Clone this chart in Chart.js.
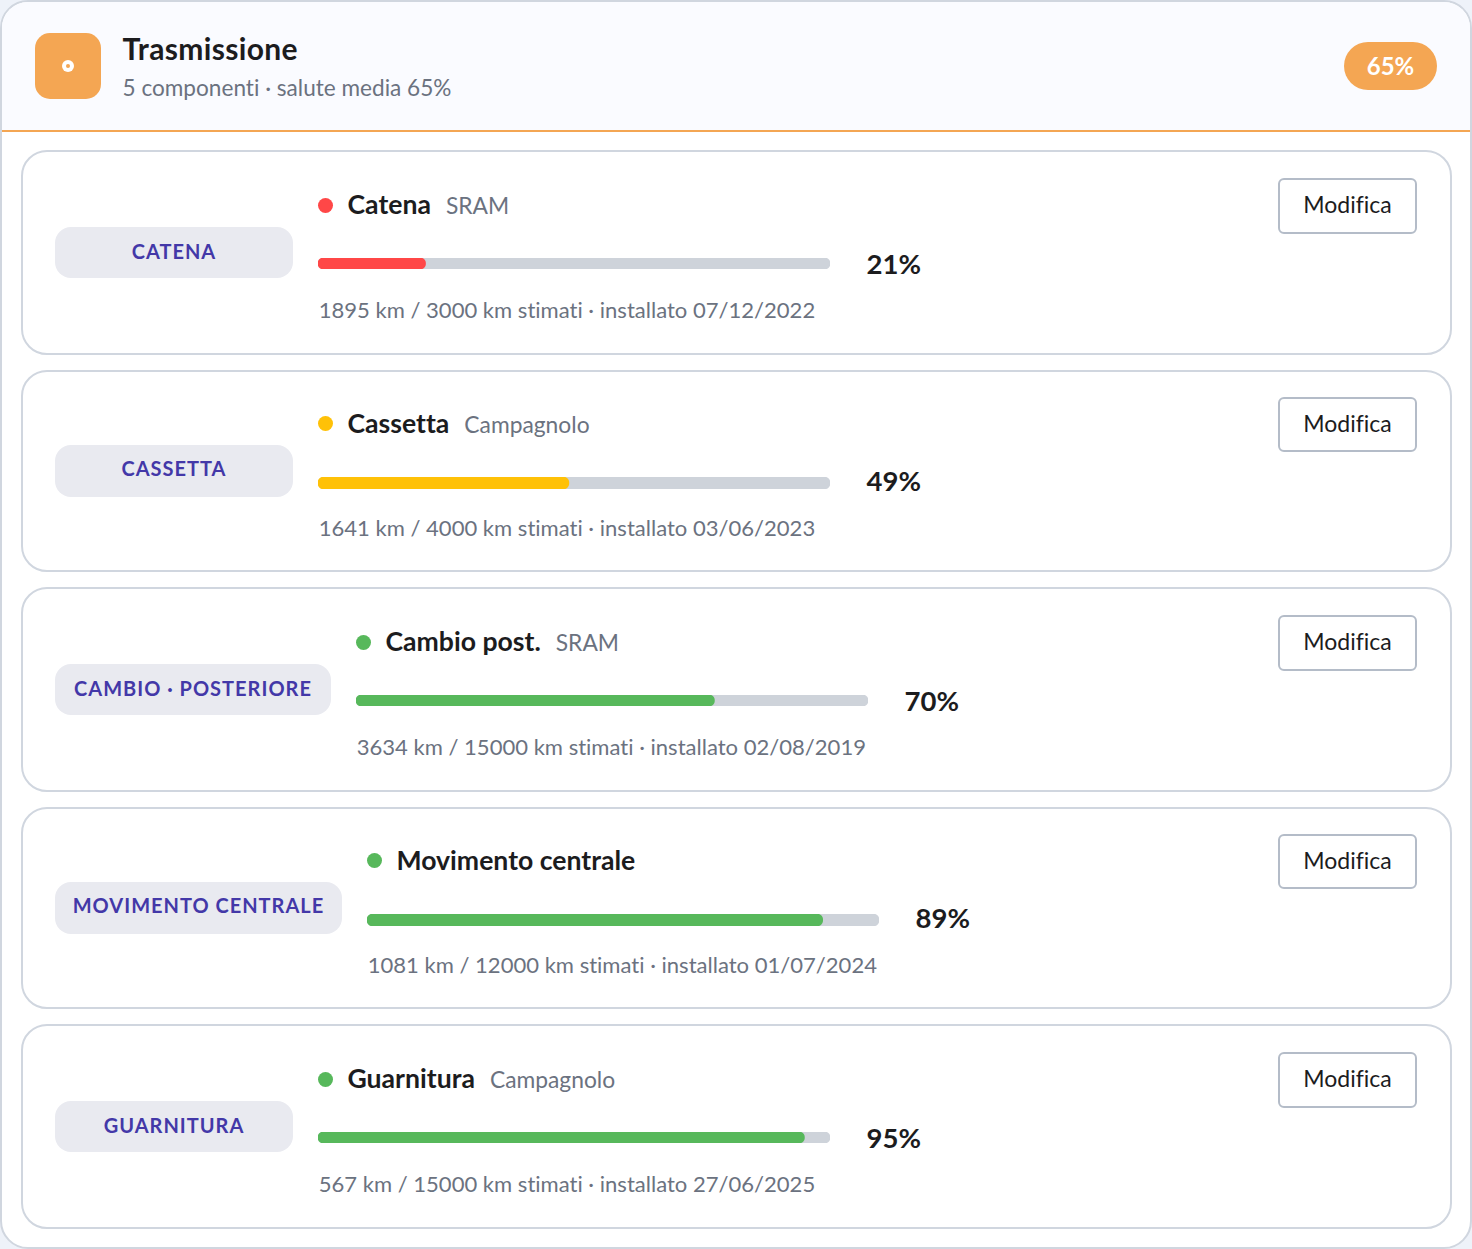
<!DOCTYPE html>
<html lang="it">
<head>
<meta charset="utf-8">
<title>Trasmissione</title>
<script src="https://cdn.jsdelivr.net/npm/chart.js@4/dist/chart.umd.min.js"></script>
<style>
*{box-sizing:border-box}
html,body{margin:0;padding:0;background:#eef2f9}
body{width:1472px;height:1249px;font-family:"Lato","Open Sans",sans-serif;font-variant-ligatures:none;color:#1c1c1e;position:relative;overflow:hidden}
#panel{position:absolute;left:0;top:0;width:1472px;height:1249px;background:#fff;border:2px solid #d0d6df;border-radius:28px;overflow:hidden}
#head{position:absolute;left:0;top:0;width:1468px;height:130px;background:#fafbff;border-bottom:2px solid #f4a653}
#icon{position:absolute;left:33px;top:31px;width:66px;height:66px;border-radius:15px;background:#f4a653}
#icon i{position:absolute;left:27px;top:27px;width:12px;height:12px;border-radius:50%;background:#fff}
#icon i:after{content:"";position:absolute;left:4px;top:4px;width:4px;height:4px;border-radius:50%;background:#f4a653}
#title{position:absolute;left:120.5px;top:26px;font-size:30px;letter-spacing:.35px;font-weight:700;line-height:40px;white-space:nowrap}
#sub{position:absolute;left:120.5px;top:71px;font-size:22.6px;line-height:30px;color:#6b7280;white-space:nowrap}
#badge{position:absolute;left:1342px;top:40px;width:93px;height:48px;border-radius:24px;background:#f4a653;color:#fff;font-size:24px;font-weight:700;line-height:47px;text-align:center}
.card{position:absolute;left:19px;width:1431px;height:204px;border:2px solid transparent}
.card:before{content:"";position:absolute;left:-2.5px;right:-1.5px;top:-3px;bottom:-2px;border:2px solid #d0d6df;border-radius:26px;background:#fff}
.tag{position:absolute;left:32px;top:74px;height:51px;border-radius:16px;background:#e9eaf0;color:#4338a8;font-size:20px;font-weight:700;letter-spacing:1px;line-height:48px;text-align:center;white-space:nowrap}
.dot{position:absolute;top:45px;width:15px;height:15px;border-radius:50%;margin-left:.3px}
.name{position:absolute;top:33px;font-size:26.6px;font-weight:700;line-height:36px;white-space:nowrap;margin-left:.5px}
.brand{font-size:22.8px;font-weight:400;color:#6b7280;margin-left:15px}
.track{position:absolute;top:105px;width:512px;margin-left:.3px}
.track canvas{display:block}
.pct{position:absolute;top:93.5px;font-size:27.5px;font-weight:700;line-height:34px;white-space:nowrap;margin-left:.5px}
.meta{position:absolute;top:141px;font-size:22.05px;line-height:32px;color:#6b7280;white-space:nowrap;margin-left:.7px}
.btn{position:absolute;left:1255px;top:25px;width:139px;height:56px;border:2px solid #b4bcc8;border-radius:6px;background:#fff;font-size:23px;line-height:48px;text-align:center}
.card:nth-child(even){height:201.5px}
.card:nth-child(even) .tag{top:72px;line-height:46px;height:52px}
.card:nth-child(even) .dot{top:43px}
.card:nth-child(even) .name{top:32px}
.card:nth-child(even) .track{top:104px}
.card:nth-child(even) .pct{top:91.5px}
.card:nth-child(even) .meta{top:139px}
.card:nth-child(even) .btn{top:24px;height:55px;line-height:48px}
</style>
</head>
<body>
<div id="panel">
  <div id="head">
    <div id="icon"><i></i></div>
    <div id="title">Trasmissione</div>
    <div id="sub">5 componenti · salute media 65%</div>
    <div id="badge">65%</div>
  </div>
  <div id="cards"></div>
</div>
<script>
const componentTags = ["CATENA", "CASSETTA", "CAMBIO · POSTERIORE", "MOVIMENTO CENTRALE", "GUARNITURA"];
const componentNames = ["Catena", "Cassetta", "Cambio post.", "Movimento centrale", "Guarnitura"];
const componentBrands = ["SRAM", "Campagnolo", "SRAM", "", "Campagnolo"];
const healthPercent = [21, 49, 70, 89, 95];
const kmRidden = [1895, 1641, 3634, 1081, 567];
const kmEstimated = [3000, 4000, 15000, 12000, 15000];
const installedDates = ["07/12/2022", "03/06/2023", "02/08/2019", "01/07/2024", "27/06/2025"];
const trackMax = [100];

function healthColor(v){ return v < 30 ? "#ff4747" : v < 60 ? "#ffc107" : "#57b85b"; }

const cardTops = [149, 368.5, 586, 805.5, 1023];
const tagWidths = [238, 238, 276, 287, 238];
const host = document.getElementById("cards");

componentNames.forEach((name, i) => {
  const card = document.createElement("div");
  card.className = "card";
  card.style.top = cardTops[i] + "px";
  const contentX = 32 + tagWidths[i] + 25;
  const color = healthColor(healthPercent[i]);
  const barHeight = i % 2 ? 12 : 11;
  card.innerHTML =
    `<div class="tag" style="width:${tagWidths[i]}px">${componentTags[i]}</div>` +
    `<div class="dot" style="left:${contentX}px;background:${color}"></div>` +
    `<div class="name" style="left:${contentX + 29}px">${name}` +
      (componentBrands[i] ? `<span class="brand">${componentBrands[i]}</span>` : "") + `</div>` +
    `<div class="track" style="left:${contentX}px;height:${barHeight}px"><canvas width="512" height="${barHeight}"></canvas></div>` +
    `<div class="pct" style="left:${contentX + 548}px">${healthPercent[i]}%</div>` +
    `<div class="meta" style="left:${contentX}px">${kmRidden[i]} km / ${kmEstimated[i]} km stimati · installato ${installedDates[i]}</div>` +
    `<div class="btn">Modifica</div>`;
  host.appendChild(card);

  new Chart(card.querySelector("canvas"), {
    type: "bar",
    data: {
      labels: [name],
      datasets: [
        { label: "Salute", data: [healthPercent[i]], backgroundColor: color, order: 1, grouped: false,
          barPercentage: 1, categoryPercentage: 1, borderRadius: 6, borderSkipped: false, borderWidth: 0 },
        { label: "Residuo", data: trackMax, backgroundColor: "#ced3da", order: 2, grouped: false,
          barPercentage: 1, categoryPercentage: 1, borderRadius: 6, borderSkipped: false, borderWidth: 0 }
      ]
    },
    options: {
      indexAxis: "y",
      responsive: false,
      animation: false,
      devicePixelRatio: 2,
      layout: { padding: 0 },
      plugins: { legend: { display: false }, tooltip: { enabled: false } },
      scales: {
        x: { display: false, min: 0, max: 100 },
        y: { display: false }
      }
    }
  });
});
</script>
</body>
</html>
